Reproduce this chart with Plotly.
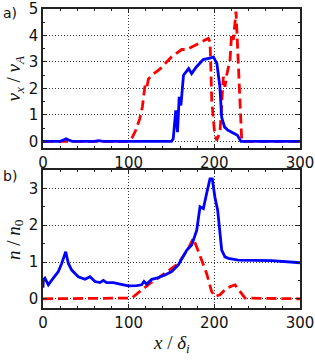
import plotly.graph_objects as go
from plotly.subplots import make_subplots

# Panel a) v_x / v_A
xa_blue = [0, 20, 24, 27, 30, 34, 40, 60, 65, 70, 100, 150, 152, 155, 157, 159, 161, 164, 170, 173.5, 179, 187, 196, 199, 203, 206.5, 208.5, 212, 216, 224, 227, 231, 300]
ya_blue = [0, 0, 0.05, 0.1, 0.05, 0, 0, 0, 0.03, 0, 0, 0, 0.1, 1.17, 0.35, 1.68, 1.36, 2.5, 2.75, 2.56, 2.81, 3.09, 3.15, 3.19, 2.94, 2.06, 0.92, 0.54, 0.42, 0.29, 0.23, 0, 0]
xa_red = [0, 100, 103.5, 108, 113, 116, 119, 121, 123, 127, 131, 137, 150, 162, 168, 193, 195, 197, 200, 202.7, 206.6, 208.6, 210.5, 212.4, 214.4, 218.3, 220.2, 222.2, 223.4, 225.3, 226.1, 228, 230, 232, 300]
ya_red = [0, 0, 0.1, 0.4, 0.86, 1.3, 2.1, 2.0, 2.35, 2.5, 2.6, 2.75, 3.19, 3.47, 3.47, 3.89, 3.76, 1.55, 0.42, 0.04, 0.35, 1.55, 2.44, 2.06, 2.5, 3.07, 4.08, 3.83, 4.33, 4.9, 4.33, 2.81, 1.55, 0, 0]

# Panel b) n / n_0
xb_blue = [0, 0.4, 2.3, 6.2, 12, 17.9, 21.8, 26.5, 29.6, 33.5, 41.2, 49, 54.9, 60.7, 66.5, 70.4, 74.3, 82.1, 89.9, 99.6, 109.3, 115.2, 117.9, 121, 126.9, 132.7, 142.4, 150.2, 158, 167.7, 173.5, 179.4, 183.3, 187.2, 191, 194.9, 197.6, 200.7, 203.9, 206.6, 208.6, 212.4, 216.3, 228, 247.5, 266.9, 300]
yb_blue = [0.3, 0.51, 0.56, 0.38, 0.56, 0.74, 0.96, 1.28, 0.96, 0.78, 0.6, 0.53, 0.6, 0.47, 0.44, 0.5, 0.44, 0.44, 0.4, 0.35, 0.36, 0.38, 0.47, 0.4, 0.53, 0.56, 0.65, 0.74, 0.92, 1.32, 1.46, 1.86, 2.5, 2.45, 2.86, 3.26, 3.26, 2.76, 2.41, 1.86, 1.32, 1.14, 1.1, 1.05, 1.05, 1.04, 0.98]
xb_red = [0, 100, 103.5, 113.2, 124.9, 130.7, 158, 169.6, 175.4, 179.4, 191, 196.8, 200.7, 206.6, 214.4, 224.1, 229.9, 235.8, 300]
yb_red = [0, 0, 0.02, 0.2, 0.42, 0.5, 0.96, 1.37, 1.64, 1.41, 0.69, 0.2, 0.06, 0.11, 0.29, 0.38, 0.2, 0.02, 0]

x_ticks = [0, 100, 200, 300]
ya_ticks = [0, 1, 2, 3, 4, 5]
yb_ticks = [0, 1, 2, 3]

BLUE = "#0000ff"
RED = "#ff0000"
AX = "#222222"

fig = make_subplots(rows=2, cols=1, vertical_spacing=0.074)

fig.add_trace(go.Scatter(x=xa_red, y=ya_red, mode="lines", line=dict(color=RED, width=2.8, dash="10px,5px")), row=1, col=1)
fig.add_trace(go.Scatter(x=xa_blue, y=ya_blue, mode="lines", line=dict(color=BLUE, width=2.8)), row=1, col=1)
fig.add_trace(go.Scatter(x=xb_red, y=yb_red, mode="lines", line=dict(color=RED, width=2.8, dash="10px,5px")), row=2, col=1)
fig.add_trace(go.Scatter(x=xb_blue, y=yb_blue, mode="lines", line=dict(color=BLUE, width=2.8)), row=2, col=1)

common_axis = dict(
    showline=True, linecolor=AX, linewidth=1.5, mirror="ticks",
    ticks="inside", ticklen=4, tickcolor=AX, tickwidth=1,
    showgrid=True, gridcolor="#333333", griddash="1px,2px", gridwidth=1,
    zeroline=False, automargin=False,
    tickfont=dict(family="DejaVu Sans", size=15, color="#111111"),
)

for r in (1, 2):
    fig.update_xaxes(range=[0, 300], tickvals=x_ticks, ticktext=[str(v) for v in x_ticks],
                     minor=dict(dtick=20, ticks="inside", ticklen=2, tickcolor=AX, showgrid=False),
                     row=r, col=1, **common_axis)

fig.update_yaxes(range=[-0.25, 5], tickvals=ya_ticks, ticktext=[str(v) for v in ya_ticks],
                 minor=dict(dtick=0.5, ticks="inside", ticklen=2, tickcolor=AX, showgrid=False),
                 row=1, col=1, **common_axis)
fig.update_yaxes(range=[-0.25, 3.5], tickvals=yb_ticks, ticktext=[str(v) for v in yb_ticks],
                 minor=dict(dtick=0.5, ticks="inside", ticklen=2, tickcolor=AX, showgrid=False),
                 row=2, col=1, **common_axis)

fig.update_layout(
    width=315, height=360,
    margin=dict(l=43, r=15, t=9, b=52, autoexpand=False),
    paper_bgcolor="white", plot_bgcolor="white",
    showlegend=False,
)
fig.layout.yaxis.domain = [0.535, 1.0]
fig.layout.yaxis2.domain = [0.0, 0.4615]

serif = dict(family="Liberation Serif", size=19, color="#111111")
fig.add_annotation(text="<i>v<sub>x</sub></i> / <i>v<sub>A</sub></i>", xref="paper", yref="paper",
                   x=-0.11, y=0.77, textangle=-90, showarrow=False, font=serif, xanchor="center", yanchor="middle")
fig.add_annotation(text="<i>n</i> / <i>n</i><sub>0</sub>", xref="paper", yref="paper",
                   x=-0.11, y=0.23, textangle=-90, showarrow=False, font=serif, xanchor="center", yanchor="middle")
fig.add_annotation(text="<i>x</i> / <i>δ<sub>i</sub></i>", xref="paper", yref="paper",
                   x=0.5, y=-0.12, showarrow=False, font=serif, xanchor="center", yanchor="middle")

lab = dict(family="DejaVu Sans", size=14, color="#111111")
fig.add_annotation(text="a)", xref="paper", yref="paper", x=-0.165, y=0.985, showarrow=False,
                   font=lab, xanchor="left", yanchor="middle")
fig.add_annotation(text="b)", xref="paper", yref="paper", x=-0.165, y=0.44, showarrow=False,
                   font=lab, xanchor="left", yanchor="middle")

fig.write_html("out.html", config={"displayModeBar": False},
               post_script="document.body.style.margin='0px';document.body.style.overflow='hidden';")
